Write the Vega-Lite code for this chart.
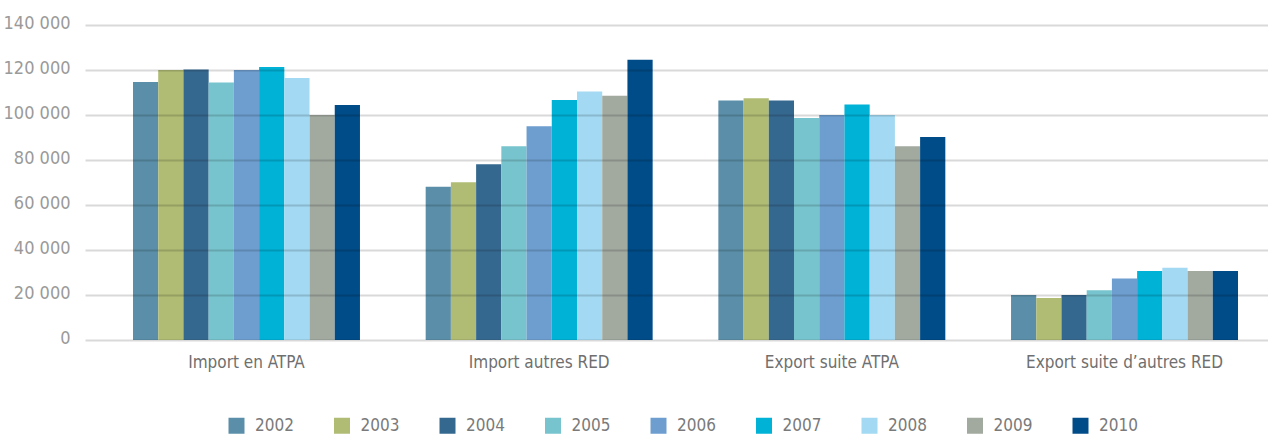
{
  "$schema": "https://vega.github.io/schema/vega-lite/v6.json",
  "autosize": {"type": "none"},
  "padding": {"left": 85, "top": 25, "right": 0, "bottom": 94},
  "width": 1201,
  "height": 315,
  "background": "#ffffff",
  "data": {
    "values": [
      {"flux": "Import en ATPA", "annee": "2002", "valeur": 114700},
      {"flux": "Import en ATPA", "annee": "2003", "valeur": 120000},
      {"flux": "Import en ATPA", "annee": "2004", "valeur": 120200},
      {"flux": "Import en ATPA", "annee": "2005", "valeur": 114500},
      {"flux": "Import en ATPA", "annee": "2006", "valeur": 120000},
      {"flux": "Import en ATPA", "annee": "2007", "valeur": 121300},
      {"flux": "Import en ATPA", "annee": "2008", "valeur": 116400},
      {"flux": "Import en ATPA", "annee": "2009", "valeur": 100000},
      {"flux": "Import en ATPA", "annee": "2010", "valeur": 104500},
      {"flux": "Import autres RED", "annee": "2002", "valeur": 68100},
      {"flux": "Import autres RED", "annee": "2003", "valeur": 70100},
      {"flux": "Import autres RED", "annee": "2004", "valeur": 78100},
      {"flux": "Import autres RED", "annee": "2005", "valeur": 86100},
      {"flux": "Import autres RED", "annee": "2006", "valeur": 95000},
      {"flux": "Import autres RED", "annee": "2007", "valeur": 106700},
      {"flux": "Import autres RED", "annee": "2008", "valeur": 110400},
      {"flux": "Import autres RED", "annee": "2009", "valeur": 108600},
      {"flux": "Import autres RED", "annee": "2010", "valeur": 124600},
      {"flux": "Export suite ATPA", "annee": "2002", "valeur": 106500},
      {"flux": "Export suite ATPA", "annee": "2003", "valeur": 107400},
      {"flux": "Export suite ATPA", "annee": "2004", "valeur": 106500},
      {"flux": "Export suite ATPA", "annee": "2005", "valeur": 98700},
      {"flux": "Export suite ATPA", "annee": "2006", "valeur": 100000},
      {"flux": "Export suite ATPA", "annee": "2007", "valeur": 104700},
      {"flux": "Export suite ATPA", "annee": "2008", "valeur": 100000},
      {"flux": "Export suite ATPA", "annee": "2009", "valeur": 86100},
      {"flux": "Export suite ATPA", "annee": "2010", "valeur": 90200},
      {"flux": "Export suite d’autres RED", "annee": "2002", "valeur": 20000},
      {"flux": "Export suite d’autres RED", "annee": "2003", "valeur": 18700},
      {"flux": "Export suite d’autres RED", "annee": "2004", "valeur": 20000},
      {"flux": "Export suite d’autres RED", "annee": "2005", "valeur": 22100},
      {"flux": "Export suite d’autres RED", "annee": "2006", "valeur": 27300},
      {"flux": "Export suite d’autres RED", "annee": "2007", "valeur": 30700},
      {"flux": "Export suite d’autres RED", "annee": "2008", "valeur": 32100},
      {"flux": "Export suite d’autres RED", "annee": "2009", "valeur": 30700},
      {"flux": "Export suite d’autres RED", "annee": "2010", "valeur": 30700}
    ]
  },
  "mark": {"type": "bar"},
  "encoding": {
    "x": {
      "field": "flux",
      "type": "nominal",
      "sort": null,
      "scale": {"paddingInner": 0.2245, "paddingOuter": 0.164},
      "axis": {
        "title": null,
        "labelAngle": 0,
        "ticks": false,
        "domain": false,
        "labelPadding": 14,
        "labelFontSize": 17,
        "labelLimit": 0,
        "labelColor": "#6f6f6f"
      }
    },
    "xOffset": {
      "field": "annee",
      "type": "nominal",
      "scale": {"paddingInner": 0, "paddingOuter": 0}
    },
    "y": {
      "field": "valeur",
      "type": "quantitative",
      "scale": {"domain": [0, 140000], "nice": false},
      "axis": {
        "title": null,
        "values": [0, 20000, 40000, 60000, 80000, 100000, 120000, 140000],
        "labelExpr": "replace(format(datum.value, ',d'), ',', ' ')",
        "ticks": false,
        "domain": false,
        "labelPadding": 15,
        "labelOffset": -2,
        "labelFontSize": 18,
        "labelColor": "#9a9a9a",
        "grid": true,
        "gridColor": "#000000",
        "gridOpacity": 0.15,
        "gridWidth": 2,
        "zindex": 1
      }
    },
    "color": {
      "field": "annee",
      "type": "nominal",
      "scale": {
        "domain": ["2002", "2003", "2004", "2005", "2006", "2007", "2008", "2009", "2010"],
        "range": ["#5b8fa9", "#b0bb74", "#35688f", "#77c4ce", "#6e9ecf", "#00b2d6", "#a3d9f2", "#a2a99f", "#004c88"]
      },
      "legend": {
        "title": null,
        "orient": "none",
        "direction": "horizontal",
        "legendX": 143,
        "legendY": 392,
        "padding": 0,
        "symbolType": "square",
        "symbolSize": 256,
        "symbolStrokeWidth": 0,
        "labelOffset": 10,
        "columnPadding": 39.5,
        "labelFontSize": 17,
        "labelColor": "#7a7a7a"
      }
    }
  },
  "config": {
    "view": {"stroke": null},
    "font": "DejaVu Sans Condensed, Liberation Sans, sans-serif"
  }
}
